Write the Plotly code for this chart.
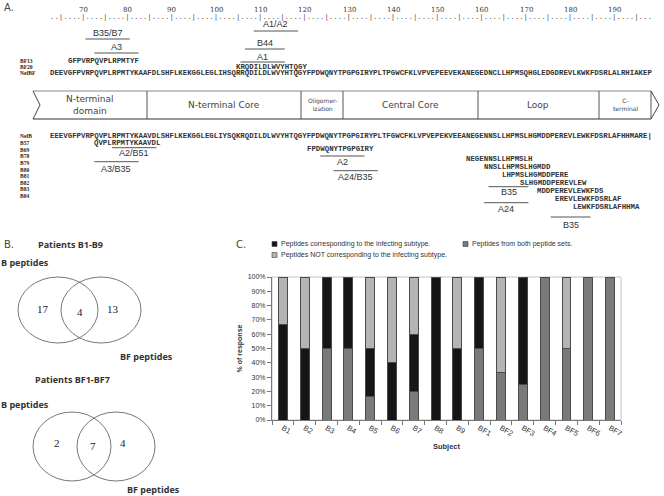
import plotly.graph_objects as go

# ---------------- data ----------------
subjects = ["B1", "B2", "B3", "B4", "B5", "B6", "B7", "B8", "B9",
            "BF1", "BF2", "BF3", "BF4", "BF5", "BF6", "BF7"]
both_sets = [0, 0, 50, 50, 16.7, 0, 20, 0, 0, 50, 33.3, 25, 100, 50, 100, 100]
corresponding = [66.7, 50, 50, 50, 33.3, 40, 40, 100, 50, 50, 0, 75, 0, 0, 0, 0]
not_corresponding = [33.3, 50, 0, 0, 50, 60, 40, 0, 50, 0, 66.7, 0, 0, 50, 0, 0]
y_ticks = [0, 10, 20, 30, 40, 50, 60, 70, 80, 90, 100]

venn_b_patients = [17, 4, 13]   # B only, both, BF only
venn_bf_patients = [2, 7, 4]

ruler_labels = [70, 80, 90, 100, 110, 120, 130, 140, 150, 160, 170, 180, 190]
ruler_start = 63

nef_bf = "DEEVGFPVRPQVPLRPMTYKAAFDLSHFLKEKGGLEGLIHSQRRQDILDLWVYHTQGYFPDWQNYTPGPGIRYPLTPGWCFKLVPVEPEEVEKANEGEDNCLLHPMSQHGLEDGDREVLKWKFDSRLALRHIAKEP"
nef_b = "EEEVGFPVRPQVPLRPMTYKAAVDLSHFLKEKGGLEGLIYSQKRQDILDLWVYHTQGYFPDWQNYTPGPGIRYPLTFGWCFKLVPVEPEKVEEANEGENNSLLHPMSLHGMDDPEREVLEWKFDSRLAFHHMARE|"
bf_peptides = [("BF13", 4, "GFPVRPQVPLRPMTYF"), ("BF20", 42, "KRQDILDLWVYHTQGY")]
b_peptides = [("B57", 10, "QVPLRPMTYKAAVDL"), ("B69", 58, "FPDWQNYTPGPGIRY"),
              ("B78", 94, "NEGENNSLLHPMSLH"), ("B79", 98, "NNSLLHPMSLHGMDD"),
              ("B80", 102, "LHPMSLHGMDDPERE"), ("B81", 106, "SLHGMDDPEREVLEW"),
              ("B82", 110, "MDDPEREVLEWKFDS"), ("B83", 114, "EREVLEWKFDSRLAF"),
              ("B84", 118, "LEWKFDSRLAFHHMA")]
# epitope restriction marks: (first residue index, last residue index, HLA label)
bf_epitopes_top = [(46, 55, "A1/A2"), (8, 17, "B35/B7"), (44, 52, "B44"), (10, 19, "A3"), (43, 52, "A1")]
b_epitopes = [(14, 23, "A2/B51"), (10, 19, "A3/B35"), (61, 70, "A2"), (64, 73, "A24/B35"),
              (99, 107, "B35"), (98, 107, "A24"), (113, 121, "B35")]
domains = ["N-terminal<br>domain", "N-terminal Core", "Oligomer-<br>ization",
           "Central Core", "Loop", "C-<br>terminal"]

# ---------------- helpers ----------------
W, H = 664, 496
def X(p): return p / W
def Y(p): return 1 - p / H

SEQ_X0 = 50.0
CW = 4.43
MONO = 7.38

annotations = []
shapes = []

def txt(x, y, s, size=8, family="Arial", color="#333333", xanchor="center", bold=False, angle=0):
    if bold:
        s = "<b>" + s + "</b>"
    annotations.append(dict(x=X(x), y=Y(y), xref="paper", yref="paper", text=s, showarrow=False,
                            xanchor=xanchor, yanchor="middle", borderpad=0, textangle=angle,
                            font=dict(size=size, family=family, color=color)))

def line(x0, y0, x1, y1, color="#444444", width=1):
    shapes.append(dict(type="line", xref="paper", yref="paper", x0=X(x0), y0=Y(y0), x1=X(x1), y1=Y(y1),
                       line=dict(color=color, width=width)))

def seq(idx, y, s, bold=True, color="#333333"):
    annotations.append(dict(x=X(SEQ_X0 + idx * CW - 1), y=Y(y), xref="paper", yref="paper",
                            text=("<b>" + s + "</b>") if bold else s, showarrow=False, xanchor="left",
                            yanchor="middle", borderpad=0,
                            font=dict(size=MONO, family="Liberation Mono", color=color)))

def cx(i):
    return SEQ_X0 + i * CW

LABEL_FONT = "Open Sans"

# ---------------- panel A ----------------
txt(3, 8, "A.", 10, "DejaVu Sans", "#444444", "left")
for p in ruler_labels:
    txt(cx(p - ruler_start + 0.5), 10, str(p), 7, "DejaVu Serif", "#333333")
ruler = "".join("|" if (p % 5 == 0) else "." for p in range(ruler_start, ruler_start + len(nef_bf)))
seq(0, 17, ruler, bold=False, color="#555555")

top_rows = {"A1/A2": (31, 24), "B35/B7": (39, 33), "B44": (49, 43), "A3": (53, 47), "A1": (62, 57)}
for a, b, lab in bf_epitopes_top:
    ly, ty = top_rows[lab]
    line(cx(a), ly, cx(b + 1), ly, "#555555", 1)
    txt((cx(a) + cx(b + 1)) / 2, ty, lab, 9, "Arial", "#333333")

LAB_X = 19
txt(LAB_X, 61, "BF13", 5.5, "Liberation Serif", "#222222", "left", True)
txt(LAB_X, 67, "BF20", 5.5, "Liberation Serif", "#222222", "left", True)
txt(LAB_X, 73, "NefBF", 5.5, "Liberation Serif", "#222222", "left", True)
for _, i0, s in bf_peptides:
    seq(i0, 61 if _ == "BF13" else 67, s)
seq(0, 73, nef_bf)

# domain bar
bx = [33, 147, 301, 343, 478, 599, 651]
by0, by1 = 91, 119
line(33, by0, 651, by0, "#888888", 1)
line(33, by1, 651, by1, "#333333", 1.2)
line(33, by0, 40, (by0 + by1) / 2, "#444444", 1)
line(40, (by0 + by1) / 2, 33, by1, "#444444", 1)
for xv in bx[1:]:
    line(xv, by0, xv, by1, "#555555", 1)
line(651, by0, 659, (by0 + by1) / 2, "#444444", 1)
line(659, (by0 + by1) / 2, 651, by1, "#444444", 1)
dom_sizes = [9, 9, 6, 9, 9, 6]
centers = [90, 224, 322, 410, 538, 625]
for d, c, sz in zip(domains, centers, dom_sizes):
    txt(c, 105, d, sz, "DejaVu Sans", "#444444")

# lower alignment (subtype B)
label_rows = [136.5 + 6.6 * k for k in range(10)]
seq_rows = [136.5, 142.7, 149.2, 159.3, 167.2, 175.1, 183.0, 190.9, 198.8, 206.7]
txt(LAB_X, label_rows[0], "NefB", 5.5, "Liberation Serif", "#222222", "left", True)
seq(0, seq_rows[0], nef_b)
for k, (lab, i0, s) in enumerate(b_peptides):
    txt(LAB_X, label_rows[k + 1], lab, 5.5, "Liberation Serif", "#222222", "left", True)
    seq(i0, seq_rows[k + 1], s)

low_rows = {0: (147.7, 153), 1: (161.7, 169), 2: (156, 162), 3: (170.7, 177),
            4: (186.7, 192), 5: (202.7, 209), 6: (217, 225)}
for k, (a, b, lab) in enumerate(b_epitopes):
    ly, ty = low_rows[k]
    line(cx(a), ly, cx(b + 1), ly, "#555555", 1)
    txt((cx(a) + cx(b + 1)) / 2, ty, lab, 9, "Arial", "#333333")

# ---------------- panel B ----------------
txt(3, 245, "B.", 10, "DejaVu Sans", "#444444", "left")
txt(70, 245, "Patients B1-B9", 9, LABEL_FONT, "#333333", "center", True)
txt(0, 262, "B peptides", 9, LABEL_FONT, "#333333", "left", True)

def circle(x0, y0, x1, y1):
    shapes.append(dict(type="circle", xref="paper", yref="paper", x0=X(x0), y0=Y(y1), x1=X(x1), y1=Y(y0),
                       line=dict(color="#555555", width=0.8)))

circle(18, 277, 98, 343)
circle(61, 277, 141, 343)
txt(43, 309, str(venn_b_patients[0]), 11, "Liberation Serif", "#222222")
txt(80, 312, str(venn_b_patients[1]), 11, "Liberation Serif", "#222222")
txt(113, 309, str(venn_b_patients[2]), 11, "Liberation Serif", "#222222")
txt(146, 356, "BF peptides", 9, LABEL_FONT, "#333333", "center", True)
txt(72, 379, "Patients BF1-BF7", 9, LABEL_FONT, "#333333", "center", True)
txt(0, 404, "B peptides", 9, LABEL_FONT, "#333333", "left", True)
circle(33, 412, 111, 481)
circle(77, 412, 155, 481)
txt(57, 443, str(venn_bf_patients[0]), 11, "Liberation Serif", "#222222")
txt(93, 446, str(venn_bf_patients[1]), 11, "Liberation Serif", "#222222")
txt(123, 443, str(venn_bf_patients[2]), 11, "Liberation Serif", "#222222")
txt(153, 489, "BF peptides", 9, LABEL_FONT, "#333333", "center", True)

# ---------------- panel C ----------------
txt(235, 245, "C.", 10, "DejaVu Sans", "#444444", "left")
C_BOTH, C_CORR, C_NOT = "#7a7a7a", "#161616", "#b4b4b4"

def legend_item(x, y, color, label):
    shapes.append(dict(type="rect", xref="paper", yref="paper", x0=X(x), x1=X(x + 5), y0=Y(y + 2.5), y1=Y(y - 2.5),
                       fillcolor=color, line=dict(color="#444444", width=0.6)))
    txt(x + 8, y, label, 7, "Arial", "#333333", "left")

legend_item(272, 244, C_CORR, "Peptides corresponding to the infecting subtype.")
legend_item(272, 255, C_NOT, "Peptides NOT corresponding to the infecting subtype.")
legend_item(463, 244, C_BOTH, "Peptides from both peptide sets.")

def nz(v):
    return [x if x else None for x in v]

fig = go.Figure()
for vals, col, name in [(both_sets, C_BOTH, "Peptides from both peptide sets."),
                        (corresponding, C_CORR, "Peptides corresponding to the infecting subtype."),
                        (not_corresponding, C_NOT, "Peptides NOT corresponding to the infecting subtype.")]:
    fig.add_trace(go.Bar(x=subjects, y=nz(vals), name=name, marker=dict(color=col, line=dict(color="#4a4a4a", width=1)),
                         showlegend=False))

# plot frame (light gray top/right)
shapes.append(dict(type="rect", xref="x domain", yref="y domain", x0=0, x1=1, y0=0, y1=1,
                   line=dict(color="#c4c4c4", width=1), layer="below"))

fig.update_layout(
    width=W, height=H, margin=dict(l=0, r=0, t=0, b=0),
    paper_bgcolor="white", plot_bgcolor="white",
    barmode="stack", bargap=0.59,
    shapes=shapes, annotations=annotations,
    xaxis=dict(domain=[X(272), X(621)], anchor="y", type="category", tickson="boundaries",
               ticks="outside", ticklen=4, tickcolor="#777777", showline=True, linecolor="#777777",
               tickfont=dict(size=7.5, family="Arial", color="#333333"),
               title=dict(text="<b>Subject</b>", standoff=6, font=dict(size=7.5, family="Arial", color="#333333")),
               automargin=False, showgrid=False),
    yaxis=dict(domain=[Y(420), Y(277)], anchor="x", range=[0, 100], tickvals=y_ticks,
               ticktext=[f"{v}%" for v in y_ticks], ticks="outside", ticklen=4, tickcolor="#777777",
               showline=True, linecolor="#777777", tickfont=dict(size=7, family="Arial", color="#333333"),
               title=dict(text="<b>% of response</b>", standoff=4, font=dict(size=7, family="Arial", color="#333333")),
               automargin=False, showgrid=False, zeroline=False),
)
fig.write_html("out.html", config={"displayModeBar": False},
               post_script="document.body.style.margin='0';document.body.style.padding='0';")
